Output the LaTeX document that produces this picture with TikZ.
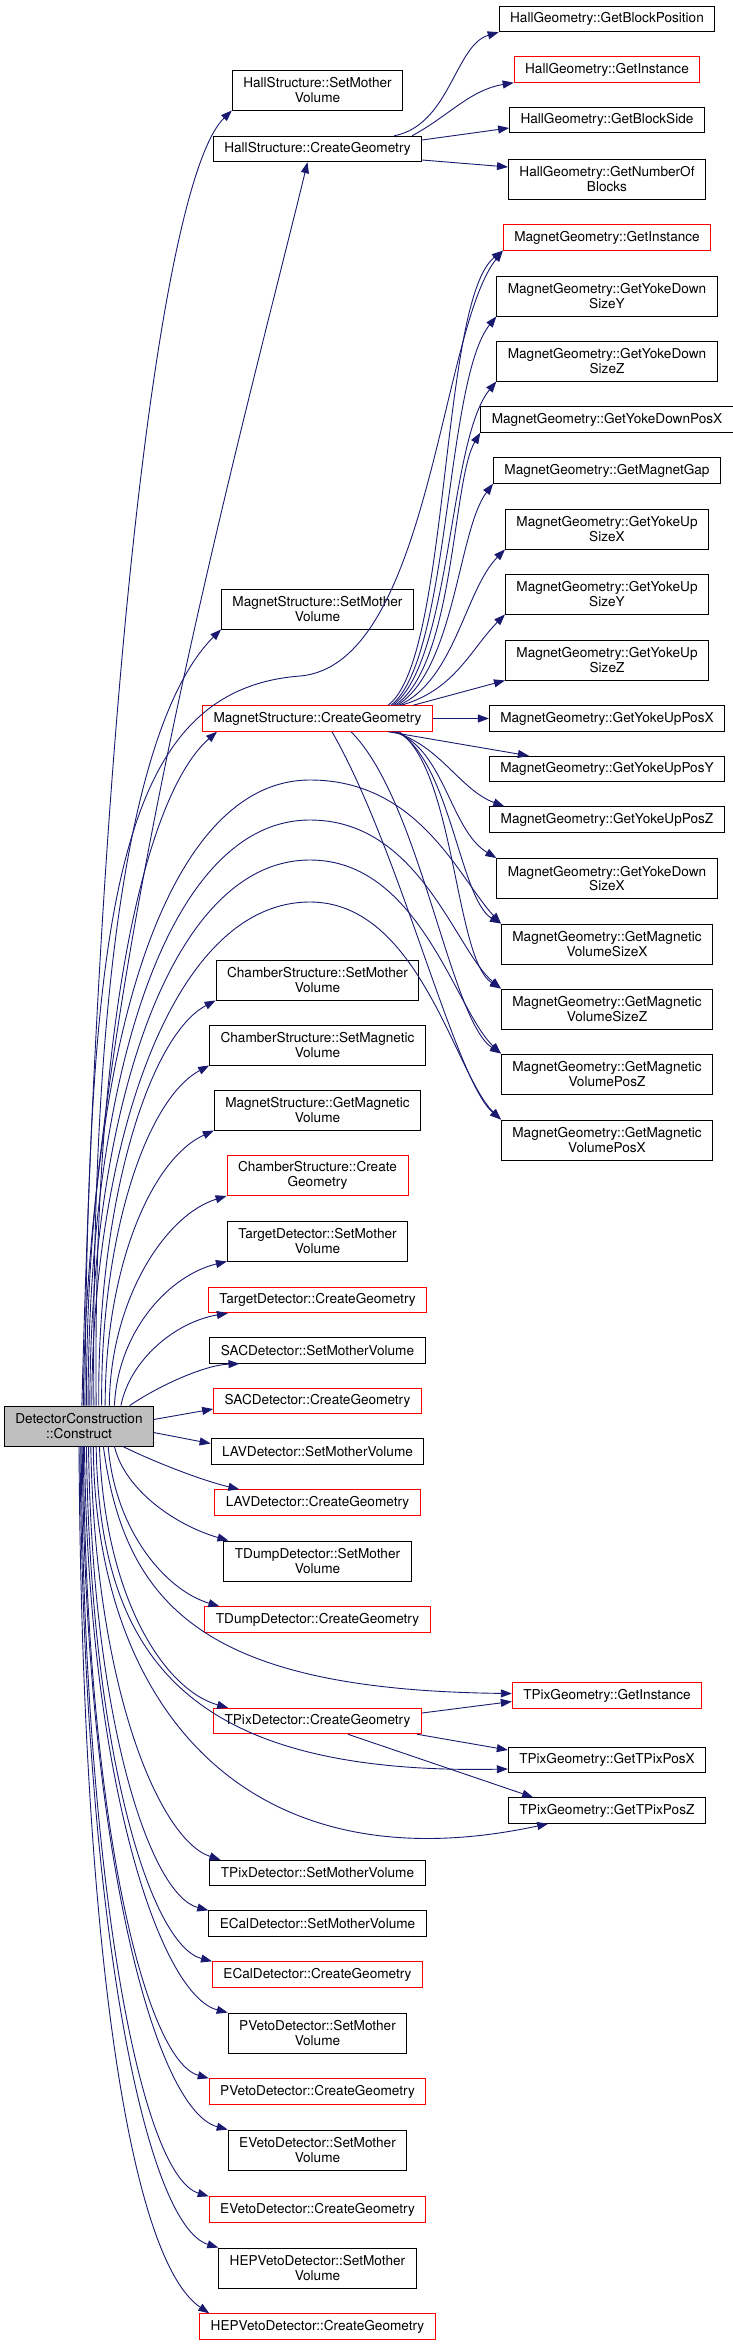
\documentclass[tikz,border=0pt]{standalone}
\usepackage{fontspec}
\setmainfont{TeX Gyre Heros}
\usepackage{tikz}
\usetikzlibrary{arrows.meta}
\definecolor{edgeblue}{HTML}{191970}
\definecolor{rootgray}{HTML}{BFBFBF}
\definecolor{linkred}{HTML}{FF0000}

\begin{document}
\begin{tikzpicture}[
    x=1pt, y=-1pt,
    font=\fontsize{13.6}{14.5}\selectfont,
    box/.style={draw=black, line width=0.9pt, fill=white, align=center,
                inner xsep=11pt, inner ysep=3pt, minimum height=25.5pt},
    tall/.style={box, minimum height=40pt},
    lnk/.style={draw=linkred},
    arr/.style={-{Triangle[length=11pt,width=8pt]}, edgeblue, line width=0.9pt}
  ]
  \useasboundingbox (0,0) rectangle (733,2345);

  % caller
  \node[tall, fill=rootgray] (root) at (79,1426) {DetectorConstruction\\::Construct};

  % middle column
  \node[tall]      (hallSet)   at (317.5,  90)   {HallStructure::SetMother\\Volume};
  \node[box]       (hallGeo)   at (317.5, 149)   {HallStructure::CreateGeometry};
  \node[tall]      (magSet)    at (317.5, 609)   {MagnetStructure::SetMother\\Volume};
  \node[box,lnk]   (magGeo)    at (317.5, 718.5) {MagnetStructure::CreateGeometry};
  \node[tall]      (chSet)     at (317.5, 980)   {ChamberStructure::SetMother\\Volume};
  \node[tall]      (chMag)     at (317.5,1045)   {ChamberStructure::SetMagnetic\\Volume};
  \node[tall]      (magGetVol) at (317.5,1110)   {MagnetStructure::GetMagnetic\\Volume};
  \node[tall,lnk]  (chGeo)     at (317.5,1175.5) {ChamberStructure::Create\\Geometry};
  \node[tall]      (tgtSet)    at (317.5,1241)   {TargetDetector::SetMother\\Volume};
  \node[box,lnk]   (tgtGeo)    at (317.5,1300)   {TargetDetector::CreateGeometry};
  \node[box]       (sacSet)    at (317.5,1350.5) {SACDetector::SetMotherVolume};
  \node[box,lnk]   (sacGeo)    at (317.5,1401)   {SACDetector::CreateGeometry};
  \node[box]       (lavSet)    at (317.5,1451.5) {LAVDetector::SetMotherVolume};
  \node[box,lnk]   (lavGeo)    at (317.5,1502.5) {LAVDetector::CreateGeometry};
  \node[tall]      (dumpSet)   at (317.5,1561)   {TDumpDetector::SetMother\\Volume};
  \node[box,lnk]   (dumpGeo)   at (317.5,1619.5) {TDumpDetector::CreateGeometry};
  \node[box,lnk]   (tpixGeo)   at (317.5,1721)   {TPixDetector::CreateGeometry};
  \node[box]       (tpixSet)   at (317.5,1873)   {TPixDetector::SetMotherVolume};
  \node[box]       (ecalSet)   at (317.5,1923.5) {ECalDetector::SetMotherVolume};
  \node[box,lnk]   (ecalGeo)   at (317.5,1974.5) {ECalDetector::CreateGeometry};
  \node[tall]      (pvetoSet)  at (317.5,2033)   {PVetoDetector::SetMother\\Volume};
  \node[box,lnk]   (pvetoGeo)  at (317.5,2091.5) {PVetoDetector::CreateGeometry};
  \node[tall]      (evetoSet)  at (317.5,2150)   {EVetoDetector::SetMother\\Volume};
  \node[box,lnk]   (evetoGeo)  at (317.5,2209.5) {EVetoDetector::CreateGeometry};
  \node[tall]      (hepSet)    at (317.5,2268)   {HEPVetoDetector::SetMother\\Volume};
  \node[box,lnk]   (hepGeo)    at (317.5,2326.5) {HEPVetoDetector::CreateGeometry};

  % right column
  \node[box]       (hgPos)     at (607,  19)   {HallGeometry::GetBlockPosition};
  \node[box,lnk]   (hgInst)    at (607,  69.5) {HallGeometry::GetInstance};
  \node[box]       (hgSide)    at (607, 120)   {HallGeometry::GetBlockSide};
  \node[tall]      (hgNum)     at (607, 179)   {HallGeometry::GetNumberOf\\Blocks};
  \node[box,lnk]   (mgInst)    at (607, 237.5) {MagnetGeometry::GetInstance};
  \node[tall]      (mgDownY)   at (607, 296)   {MagnetGeometry::GetYokeDown\\SizeY};
  \node[tall]      (mgDownZ)   at (607, 361)   {MagnetGeometry::GetYokeDown\\SizeZ};
  \node[box]       (mgDownPX)  at (607, 419.5) {MagnetGeometry::GetYokeDownPosX};
  \node[box]       (mgGap)     at (607, 470.5) {MagnetGeometry::GetMagnetGap};
  \node[tall]      (mgUpX)     at (607, 529)   {MagnetGeometry::GetYokeUp\\SizeX};
  \node[tall]      (mgUpY)     at (607, 594)   {MagnetGeometry::GetYokeUp\\SizeY};
  \node[tall]      (mgUpZ)     at (607, 660)   {MagnetGeometry::GetYokeUp\\SizeZ};
  \node[box]       (mgUpPX)    at (607, 718.5) {MagnetGeometry::GetYokeUpPosX};
  \node[box]       (mgUpPY)    at (607, 769)   {MagnetGeometry::GetYokeUpPosY};
  \node[box]       (mgUpPZ)    at (607, 819.5) {MagnetGeometry::GetYokeUpPosZ};
  \node[tall]      (mgDownX)   at (607, 878.5) {MagnetGeometry::GetYokeDown\\SizeX};
  \node[tall]      (mgVolSX)   at (607, 944)   {MagnetGeometry::GetMagnetic\\VolumeSizeX};
  \node[tall]      (mgVolSZ)   at (607,1009)   {MagnetGeometry::GetMagnetic\\VolumeSizeZ};
  \node[tall]      (mgVolPZ)   at (607,1074)   {MagnetGeometry::GetMagnetic\\VolumePosZ};
  \node[tall]      (mgVolPX)   at (607,1140)   {MagnetGeometry::GetMagnetic\\VolumePosX};
  \node[box,lnk]   (tgInst)    at (607,1695.5) {TPixGeometry::GetInstance};
  \node[box]       (tgPosX)    at (607,1760)   {TPixGeometry::GetTPixPosX};
  \node[box]       (tgPosZ)    at (607,1810.5) {TPixGeometry::GetTPixPosZ};

  % hall structure calls
  \draw[arr] ([xshift=-28pt]hallGeo.north east) .. controls (450,125) and (455,45) .. (hgPos.south west);
  \draw[arr] ([xshift=-10pt]hallGeo.north east) .. controls (450,115) and (470,90) .. (hgInst.south west);
  \draw[arr] ([yshift=9pt]hallGeo.east)  -- ([yshift=-8pt]hgSide.west);
  \draw[arr] ([yshift=-11pt]hallGeo.east) -- ([yshift=12pt]hgNum.west);

  % magnet structure calls
  \draw[arr] ([xshift=-45pt]magGeo.north east) .. controls (450,660) and (440,300) .. (mgInst.south west);
  \draw[arr] ([xshift=-42pt]magGeo.north east) .. controls (450,660) and (445,380) .. (mgDownY.south west);
  \draw[arr] ([xshift=-40pt]magGeo.north east) .. controls (452,660) and (448,440) .. (mgDownZ.south west);
  \draw[arr] ([xshift=-38pt]magGeo.north east) .. controls (455,665) and (452,480) .. (mgDownPX.south west);
  \draw[arr] ([xshift=-36pt]magGeo.north east) .. controls (455,670) and (458,530) .. (mgGap.south west);
  \draw[arr] ([xshift=-34pt]magGeo.north east) .. controls (455,680) and (465,590) .. (mgUpX.south west);
  \draw[arr] ([xshift=-32pt]magGeo.north east) .. controls (455,690) and (470,650) .. (mgUpY.south west);
  \draw[arr] ([xshift=-20pt]magGeo.north east) -- (mgUpZ.south west);
  \draw[arr] (magGeo.east) -- (mgUpPX.west);
  \draw[arr] ([xshift=-45pt]magGeo.south east) -- ([xshift=40pt]mgUpPY.north west);
  \draw[arr] ([xshift=-40pt]magGeo.south east) .. controls (440,745) and (460,790) .. ([xshift=15pt]mgUpPZ.north west);
  \draw[arr] ([xshift=-38pt]magGeo.south east) .. controls (445,750) and (450,830) .. (mgDownX.north west);
  \draw[arr] ([xshift=-36pt]magGeo.south east) .. controls (450,760) and (460,900) .. (mgVolSX.north west);
  \draw[arr] ([xshift=-34pt]magGeo.south east) .. controls (455,770) and (455,960) .. (mgVolSZ.north west);
  \draw[arr] ([xshift=-82pt]magGeo.south east) .. controls (420,800) and (450,1020) .. (mgVolPZ.north west);
  \draw[arr] ([xshift=-101pt]magGeo.south east) .. controls (400,850) and (455,1080) .. (mgVolPX.north west);

  % tpix detector calls
  \draw[arr] ([yshift=8pt]tpixGeo.east) -- ([yshift=-6pt]tgInst.west);
  \draw[arr] ([xshift=-5pt]tpixGeo.south east) -- ([yshift=10pt]tgPosX.west);
  \draw[arr] ([xshift=-74pt]tpixGeo.south east) -- ([xshift=25pt]tgPosZ.north west);

  % construct: upward calls
  \draw[arr] (root.82) .. controls (100,700) and (160,180) .. (hallSet.south west);
  \draw[arr] (root.78) .. controls (85,1000) and (250,400) .. ([xshift=-10pt]hallGeo.south);
  \draw[arr] (root.74) .. controls (88,900) and (120,690) .. (300,676)
                       .. controls (430,665) and (440,330) .. (mgInst.south west);
  \draw[arr] (root.70) .. controls (86,1030) and (170,780) .. (310,780)
                       .. controls (420,780) and (460,880) .. (mgVolSX.north west);
  \draw[arr] (root.66) .. controls (88,1070) and (170,820) .. (310,820)
                       .. controls (420,820) and (455,950) .. (mgVolSZ.north west);
  \draw[arr] (root.62) .. controls (90,1110) and (170,860) .. (310,860)
                       .. controls (420,860) and (455,1010) .. (mgVolPZ.north west);
  \draw[arr] (root.58) .. controls (92,1150) and (170,902) .. (310,902)
                       .. controls (420,902) and (455,1075) .. (mgVolPX.north west);
  \draw[arr] (root.54) .. controls (90,900) and (150,700) .. (magSet.south west);
  \draw[arr] (root.50) .. controls (92,1000) and (150,790) .. ([xshift=15pt]magGeo.south west);
  \draw[arr] (root.46) .. controls (97,1200) and (150,1035) .. (chSet.south west);
  \draw[arr] (root.42) .. controls (100,1240) and (145,1100) .. (chMag.south west);
  \draw[arr] (root.38) .. controls (105,1270) and (150,1160) .. (magGetVol.south west);
  \draw[arr] (root.34) .. controls (110,1300) and (165,1215) .. (chGeo.south west);
  \draw[arr] (root.30) .. controls (118,1330) and (170,1275) .. (tgtSet.south west);
  \draw[arr] (root.26) .. controls (130,1360) and (175,1322) .. ([xshift=20pt]tgtGeo.south west);
  \draw[arr] (root.22) .. controls (160,1385) and (205,1365) .. ([xshift=30pt]sacSet.south west);

  % construct: side calls
  \draw[arr] (root.5)  -- ([yshift=-8pt]sacGeo.west);
  \draw[arr] (root.-5) -- ([yshift=8pt]lavSet.west);
  \draw[arr] (root.-25) .. controls (150,1460) and (200,1480) .. ([xshift=25pt]lavGeo.north west);

  % construct: downward calls
  \draw[arr] (root.-30) .. controls (125,1490) and (175,1525) .. ([xshift=5pt]dumpSet.north west);
  \draw[arr] (root.-35) .. controls (115,1530) and (165,1590) .. ([xshift=15pt]dumpGeo.north west);
  \draw[arr] (root.-40) .. controls (125,1610) and (210,1690) .. ([yshift=2pt]tgInst.west);
  \draw[arr] (root.-45) .. controls (105,1600) and (165,1690) .. ([xshift=15pt]tpixGeo.north west);
  \draw[arr] (root.-50) .. controls (100,1660) and (190,1775) .. ([yshift=-9pt]tgPosX.west);
  \draw[arr] (root.-55) .. controls (95,1700) and (240,1890) .. ([xshift=40pt]tgPosZ.south west);
  \draw[arr] (root.-60) .. controls (95,1690) and (160,1840) .. ([xshift=11pt]tpixSet.north west);
  \draw[arr] (root.-65) .. controls (92,1720) and (150,1895) .. (ecalSet.north west);
  \draw[arr] (root.-70) .. controls (90,1750) and (150,1945) .. (ecalGeo.north west);
  \draw[arr] (root.-75) .. controls (88,1780) and (160,1995) .. (pvetoSet.north west);
  \draw[arr] (root.-78) .. controls (86,1820) and (145,2060) .. (pvetoGeo.north west);
  \draw[arr] (root.-81) .. controls (85,1850) and (155,2110) .. (evetoSet.north west);
  \draw[arr] (root.-84) .. controls (84,1880) and (140,2175) .. (evetoGeo.north west);
  \draw[arr] (root.-87) .. controls (83,1920) and (145,2225) .. (hepSet.north west);
  \draw[arr] (root.-90) .. controls (82,1950) and (130,2260) .. ([xshift=10pt]hepGeo.north west);
\end{tikzpicture}
\end{document}
